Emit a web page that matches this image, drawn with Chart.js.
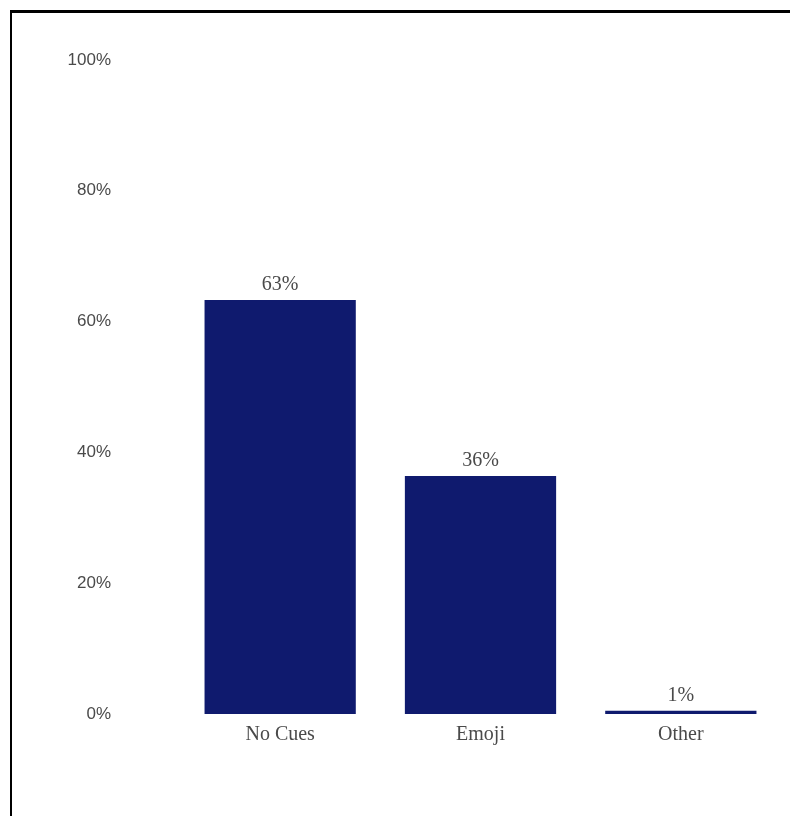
<!DOCTYPE html>
<html>
<head>
<meta charset="utf-8">
<script src="https://cdn.jsdelivr.net/npm/chart.js@4"></script>
<style>
  html, body { margin: 0; padding: 0; background: #fff; }
  #wrap { position: relative; width: 790px; height: 816px; overflow: hidden; }
  #frame { position: absolute; left: 10px; top: 10px; width: 800px; height: 820px;
           border-left: 2px solid #000; border-top: 3px solid #000; box-sizing: border-box; }
  canvas { position: absolute; left: 0; top: 0; }
</style>
</head>
<body>
<div id="wrap">
  <div id="frame"></div>
  <canvas id="c" width="790" height="816"></canvas>
</div>
<script>
// Share of responses by cue type
const categories = ['No Cues', 'Emoji', 'Other'];
const shares = [63.3, 36.4, 0.5];
const yTicks = [0, 20, 40, 60, 80, 100];

const barColor = '#0f1a6e';
const textColor = '#4a4a4a';

// Writes the rounded percentage above each bar
const valueLabels = {
  id: 'valueLabels',
  afterDatasetsDraw(chart) {
    const { ctx } = chart;
    const meta = chart.getDatasetMeta(0);
    ctx.save();
    ctx.font = '20px "Liberation Serif", "Times New Roman", serif';
    ctx.fillStyle = textColor;
    ctx.textAlign = 'center';
    ctx.textBaseline = 'alphabetic';
    meta.data.forEach((bar, i) => {
      const v = chart.data.datasets[0].data[i];
      ctx.fillText(Math.round(v) + '%', bar.x, bar.y - 10);
    });
    ctx.restore();
  }
};

new Chart(document.getElementById('c'), {
  type: 'bar',
  data: {
    labels: categories,
    datasets: [{
      data: shares,
      backgroundColor: barColor,
      borderWidth: 0,
      barPercentage: 0.755,
      categoryPercentage: 1.0
    }]
  },
  options: {
    responsive: false,
    animation: false,
    layout: { padding: { top: 0, left: 0, right: 9, bottom: 52 } },
    plugins: {
      legend: { display: false },
      tooltip: { enabled: false }
    },
    scales: {
      x: {
        grid: { display: false },
        border: { display: false },
        ticks: {
          color: textColor,
          padding: 1,
          font: { family: '"Liberation Serif", "Times New Roman", serif', size: 20 }
        },
        afterFit(scale) { scale.height = 50; }
      },
      y: {
        min: 0,
        max: 100,
        grid: { display: false },
        border: { display: false },
        afterBuildTicks(scale) { scale.ticks = yTicks.map(v => ({ value: v })); },
        ticks: {
          color: textColor,
          padding: 61,
          font: { family: '"Liberation Sans", Arial, sans-serif', size: 17 },
          callback: v => v + '%'
        },
        afterFit(scale) { scale.width = 180; scale.paddingTop = 60; }
      }
    }
  },
  plugins: [valueLabels]
});
</script>
</body>
</html>
